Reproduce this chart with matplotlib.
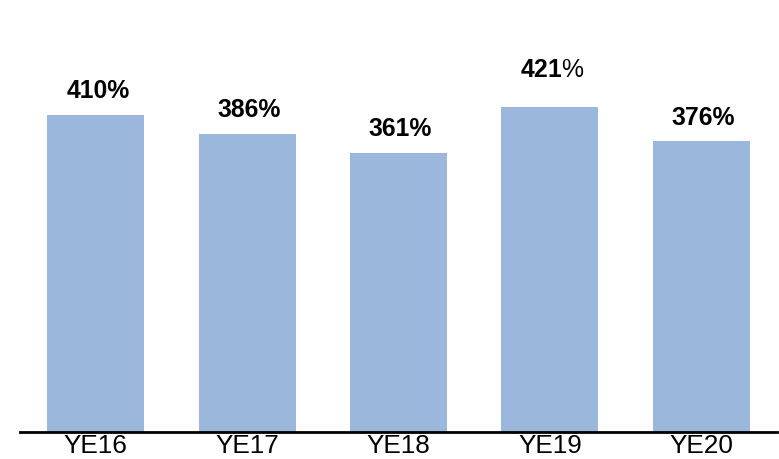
import matplotlib
matplotlib.use("Agg")
import matplotlib.pyplot as plt

years = ["YE16", "YE17", "YE18", "YE19", "YE20"]
ratios = [410, 386, 361, 421, 376]
bold_pct = [True, True, True, False, True]

plt.rcParams["font.family"] = ["Liberation Sans", "DejaVu Sans"]
plt.rcParams["mathtext.fontset"] = "custom"
plt.rcParams["mathtext.bf"] = "Liberation Sans:bold"
plt.rcParams["mathtext.rm"] = "Liberation Sans"

fig = plt.figure(figsize=(7.79, 4.59), dpi=100)
ax = fig.add_axes([20 / 779, 1 - 432 / 459, 757 / 779, 432 / 459])

x = range(len(years))
bars = ax.bar(x, ratios, width=0.64, color="#9bb7db")

label_pad = [12, 12, 12, 21, 12]
for i, b in enumerate(bars):
    v = ratios[i]
    if bold_pct[i]:
        txt = f"{v}%"
        w = "bold"
    else:
        txt = r"$\mathbf{" + str(v) + r"}$%"
        w = "normal"
    ax.annotate(txt, (b.get_x() + b.get_width() / 2, v),
                xytext=(1.5, label_pad[i]), textcoords="offset points",
                ha="center", va="baseline", fontsize=17.8, fontweight=w)

ax.set_xlim(-0.5, 4.5)
ax.set_ylim(0, 559)
ax.set_xticks(list(x))
ax.set_xticklabels(years, fontsize=18.8)
ax.tick_params(axis="x", length=0, pad=1.5)
ax.set_yticks([])
for s in ["top", "left", "right"]:
    ax.spines[s].set_visible(False)
ax.spines["bottom"].set_linewidth(2)
ax.spines["bottom"].set_color("black")

fig.savefig("out.png", dpi=100)
